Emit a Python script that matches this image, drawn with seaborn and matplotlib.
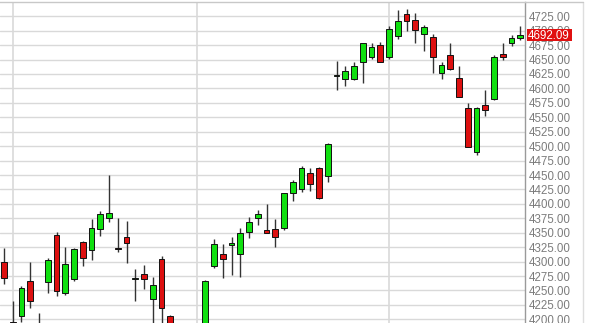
import matplotlib
matplotlib.use("Agg")
import matplotlib.pyplot as plt
import matplotlib.transforms as mtransforms
from matplotlib.patches import Rectangle
from matplotlib.lines import Line2D
import seaborn as sns
import numpy as np

# ---- data ----
opens = [4299, 4195, 4205, 4266, 4170, 4264, 4346, 4245, 4269, 4334,
         4320, 4356, 4376, 4323, 4343, 4270, 4278, 4236, 4304, 4206,
         4175, 4150, 4170, 4160, 4292, 4314, 4328, 4313, 4351, 4376,
         4354, 4356, 4358, 4418, 4426, 4454, 4462, 4448, 4622, 4617,
         4616, 4646, 4655, 4676, 4655, 4691, 4729, 4718, 4694, 4689,
         4627, 4658, 4618, 4566, 4490, 4571, 4582, 4659, 4678, 4688]
closes = [4272, 4170, 4255, 4231, 4190, 4302, 4249, 4295, 4321, 4306,
          4359, 4382, 4384, 4322, 4333, 4271, 4270, 4259, 4220, 4180,
          4150, 4170, 4155, 4266, 4330, 4304, 4333, 4349, 4369, 4382,
          4350, 4343, 4418, 4438, 4462, 4434, 4410, 4503, 4623, 4631,
          4639, 4678, 4671, 4646, 4703, 4717, 4717, 4701, 4707, 4654,
          4641, 4634, 4586, 4499, 4566, 4563, 4654, 4654, 4687, 4692.09]
highs = [4324, 4231, 4257, 4300, 4211, 4307, 4352, 4326, 4323, 4335,
         4374, 4388, 4450, 4375, 4371, 4287, 4294, 4274, 4310, 4207,
         4190, 4185, 4190, 4268, 4339, 4330, 4342, 4358, 4378, 4389,
         4400, 4373, 4419, 4441, 4466, 4463, 4464, 4506, 4648, 4639,
         4646, 4679, 4679, 4681, 4708, 4736, 4737, 4731, 4710, 4694,
         4646, 4679, 4639, 4574, 4567, 4598, 4658, 4679, 4693, 4708]
lows = [4261, 4150, 4196, 4220, 4150, 4245, 4241, 4242, 4266, 4293,
        4302, 4345, 4368, 4316, 4298, 4232, 4252, 4180, 4180, 4170,
        4140, 4135, 4145, 4150, 4289, 4272, 4277, 4274, 4340, 4363,
        4349, 4326, 4355, 4405, 4420, 4423, 4408, 4438, 4598, 4605,
        4614, 4610, 4651, 4645, 4651, 4686, 4699, 4678, 4665, 4627,
        4616, 4632, 4585, 4498, 4485, 4553, 4580, 4650, 4674, 4684]
day = list(range(len(opens)))
month_starts = [1, 22, 44]
y_ticks = list(range(4200, 4726, 25))
last_price = 4692.09

# ---- style ----
sns.set_theme(style="white")
plt.rcParams["font.family"] = ["Liberation Sans", "DejaVu Sans"]

W, H = 592, 323
fig = plt.figure(figsize=(W / 100, H / 100), dpi=100)
fig.patch.set_facecolor("white")
ax = fig.add_axes([0, 0, 525 / W, 1 - 1.5 / H])
ax.set_facecolor("white")

green = "#10e010"
red = "#dd1010"

o = np.array(opens, float)
c = np.array(closes, float)
hi = np.array(highs, float)
lo = np.array(lows, float)
x = np.array(day, float)

# grid
for yv in y_ticks:
    ax.axhline(yv, color="#d9d9d9", lw=1.0, zorder=0)
for xv in month_starts:
    ax.axvline(xv, color="#d9d9d9", lw=1.2, zorder=0)

# wicks
ax.vlines(x, lo, hi, color="#333333", lw=1.0, zorder=2)

# bodies
up = c >= o
colors = [green if u else red for u in up]
bottoms = np.minimum(o, c)
heights = np.maximum(np.abs(c - o), 1.0)
ax.bar(x, heights, bottom=bottoms, width=0.68, color=colors,
       edgecolor="#111111", linewidth=0.7, zorder=3)

ax.set_xlim(-0.457, 59.54)
ax.set_ylim(4193.6, 4750.6)

ax.yaxis.tick_right()
ax.set_yticks(y_ticks)
ax.set_yticklabels([f"{v:.2f}" for v in y_ticks])
ax.tick_params(axis="y", length=0, pad=3, labelsize=8.3, labelcolor="#7c7c7c")
ax.set_xticks([])

for side in ["left", "bottom"]:
    ax.spines[side].set_visible(False)
ax.spines["right"].set_color("#9a9a9a")
ax.spines["right"].set_linewidth(1.0)
ax.spines["top"].set_color("#c8c8c8")
ax.spines["top"].set_linewidth(1.0)

# outer frame of the label column
fig.add_artist(Line2D([583 / W, 583 / W], [0, 1 - 1.5 / H], color="#dedede", lw=1.0))
fig.add_artist(Line2D([525 / W, 583 / W], [1 - 1.5 / H, 1 - 1.5 / H], color="#c8c8c8", lw=1.0))

# last price tag
trans = mtransforms.blended_transform_factory(ax.transAxes, ax.transData)
ax.add_patch(Rectangle((527 / 525, last_price - 10.3), (572 - 527) / 525, 20.6,
                       transform=trans, facecolor="#e01010", edgecolor="none",
                       clip_on=False, zorder=5))
ax.text(1.0 + 3 / 525, last_price - 1.2, f"{last_price:.2f}", transform=trans,
        ha="left", va="center", fontsize=8.3, color="white", zorder=6,
        clip_on=False)

fig.savefig("out.png", dpi=100, facecolor="white")
